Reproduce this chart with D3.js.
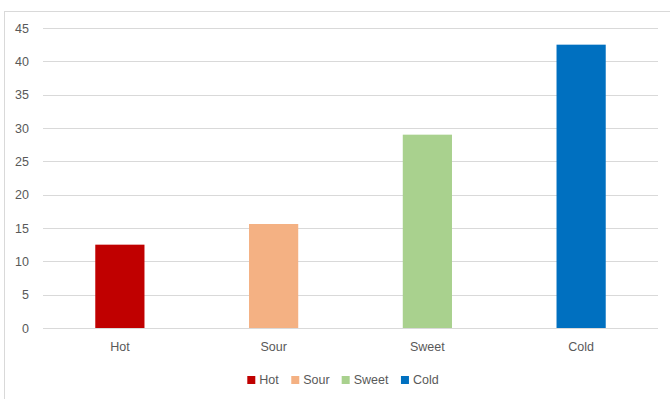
<!DOCTYPE html>
<html>
<head>
<meta charset="utf-8">
<script src="https://cdn.jsdelivr.net/npm/d3@7"></script>
<style>
  html, body { margin: 0; padding: 0; background: #fff; }
  svg { display: block; }
  text { font-family: "Liberation Sans", Arial, sans-serif; fill: #595959; }
</style>
</head>
<body>
<svg id="chart" width="670" height="399"></svg>
<script>
// Flavour categories and their values
const categories = ["Hot", "Sour", "Sweet", "Cold"];
const values = [12.5, 15.6, 29, 42.5];
const colors = ["#C00000", "#F4B183", "#A9D18E", "#0070C0"];
const yTicks = [0, 5, 10, 15, 20, 25, 30, 35, 40, 45];

const svg = d3.select("#chart");
const FONT = 12.5;

// Chart area frame
svg.append("rect")
  .attr("x", 4.5).attr("y", 11.5)
  .attr("width", 680).attr("height", 400)
  .attr("fill", "#fff")
  .attr("stroke", "#D9D9D9").attr("stroke-width", 1);

const plot = { left: 43, right: 658, top: 28, bottom: 328 };

const x = d3.scaleBand()
  .domain(categories)
  .range([plot.left, plot.right])
  .paddingInner(0.68)
  .paddingOuter(0.34);

const y = d3.scaleLinear()
  .domain([0, 45])
  .range([plot.bottom, plot.top]);

// Horizontal gridlines with value labels
const yAxis = d3.axisLeft(y)
  .tickValues(yTicks)
  .tickSize(-(plot.right - plot.left))
  .tickPadding(14)
  .tickFormat(d3.format("d"));

const gy = svg.append("g")
  .attr("transform", `translate(${plot.left},0)`)
  .call(yAxis);
gy.select(".domain").remove();
gy.selectAll(".tick line")
  .attr("stroke", "#D9D9D9").attr("stroke-width", 1)
  .attr("shape-rendering", "crispEdges");
gy.selectAll(".tick text")
  .attr("font-size", FONT)
  .attr("fill", "#595959")
  .style("font-family", "'Liberation Sans', Arial, sans-serif");

// Bars
svg.append("g").selectAll("rect")
  .data(categories)
  .join("rect")
  .attr("x", (d) => x(d))
  .attr("y", (d, i) => y(values[i]))
  .attr("width", x.bandwidth())
  .attr("height", (d, i) => y(0) - y(values[i]))
  .attr("fill", (d, i) => colors[i]);

// Category axis
const xAxis = d3.axisBottom(x).tickSize(0).tickPadding(14);
const gx = svg.append("g")
  .attr("transform", `translate(0,${plot.bottom})`)
  .call(xAxis);
gx.select(".domain").remove();
gx.selectAll(".tick text")
  .attr("font-size", FONT)
  .attr("fill", "#595959")
  .style("font-family", "'Liberation Sans', Arial, sans-serif");

// Legend, centred below the plot
const legendItems = categories.map((c, i) => ({ name: c, color: colors[i] }));
const legend = svg.append("g").attr("transform", "translate(0,380)");
const items = legend.selectAll("g")
  .data(legendItems)
  .join("g");
items.append("rect")
  .attr("width", 8).attr("height", 8)
  .attr("y", -4)
  .attr("fill", (d) => d.color);
items.append("text")
  .attr("x", 12)
  .attr("dy", "0.35em")
  .attr("font-size", FONT)
  .text((d) => d.name);
const widths = [];
items.each(function () {
  widths.push(this.getBBox().width);
});
const gap = 12;
const total = d3.sum(widths) + gap * (widths.length - 1);
let cx = (246 + 440) / 2 - total / 2;
items.attr("transform", (d, i) => {
  const t = `translate(${cx},0)`;
  cx += widths[i] + gap;
  return t;
});
</script>
</body>
</html>
